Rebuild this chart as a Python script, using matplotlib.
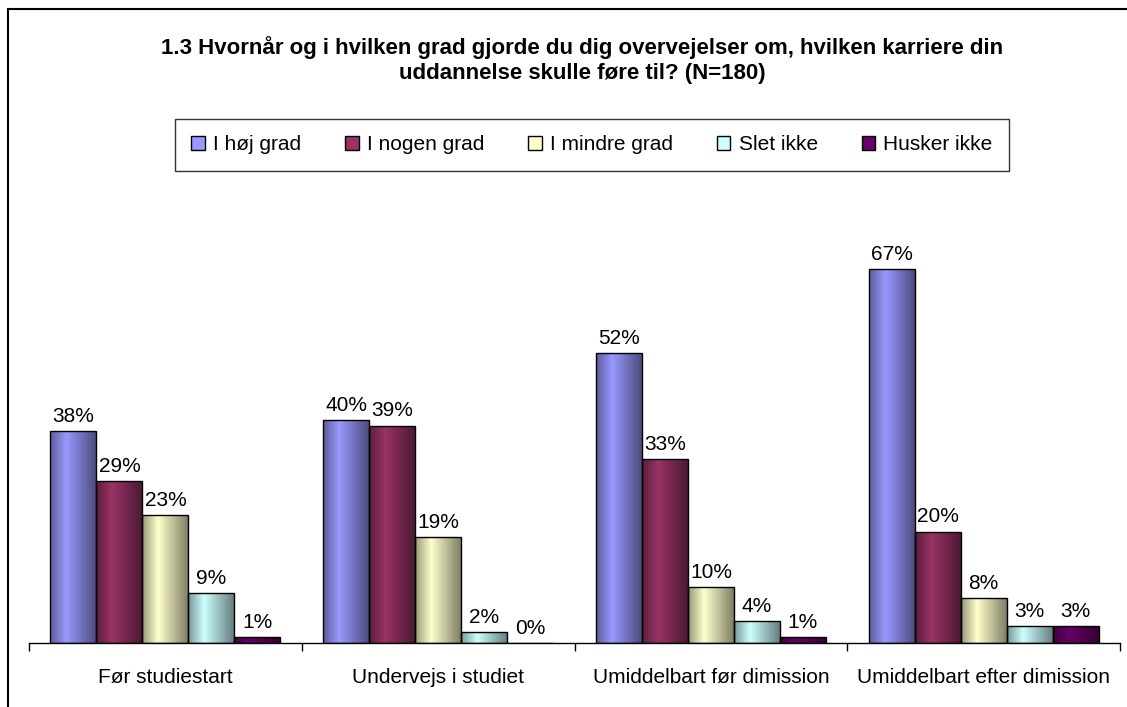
import numpy as np
import matplotlib
matplotlib.use("Agg")
import matplotlib.pyplot as plt
from matplotlib.patches import Rectangle, Patch
from matplotlib.colors import to_rgb

plt.rcParams['font.family'] = ['Liberation Sans', 'DejaVu Sans']

title = "1.3 Hvornår og i hvilken grad gjorde du dig overvejelser om, hvilken karriere din\nuddannelse skulle føre til? (N=180)"
categories = ["Før studiestart", "Undervejs i studiet", "Umiddelbart før dimission", "Umiddelbart efter dimission"]
series_names = ["I høj grad", "I nogen grad", "I mindre grad", "Slet ikke", "Husker ikke"]
hoej = [38, 40, 52, 67]
nogen = [29, 39, 33, 20]
mindre = [23, 19, 10, 8]
slet = [9, 2, 4, 3]
husker = [1, 0, 1, 3]
series_values = [hoej, nogen, mindre, slet, husker]
colors = ["#9999FF", "#993366", "#FFFFCC", "#CCFFFF", "#660066"]

W, H = 1127, 707
fig = plt.figure(figsize=(W / 100, H / 100), dpi=100)
ax = fig.add_axes([29 / W, 64 / H, (1120 - 29) / W, 446 / H])

n = len(series_names)
group_w = 0.843
bw = group_w / n
x = np.arange(len(categories)) + 0.5

# gradient profile
t = np.linspace(0, 1, 64)
prof = np.interp(t, [0, 0.35, 1], [0.6, 1.0, 0.5])

for i, (vals, c) in enumerate(zip(series_values, colors)):
    xs = x - group_w / 2 + bw * (i + 0.5)
    bars = ax.bar(xs, vals, width=bw, color=c, edgecolor='black', linewidth=1.0, zorder=3)
    base = np.array(to_rgb(c))
    grad = np.clip(prof[:, None] * base[None, :], 0, 1)[None, :, :]
    for b, v in zip(bars, vals):
        ax.annotate(f"{v}%", (b.get_x() + b.get_width() / 2, v), xytext=(0, 10.5),
                    textcoords='offset points', ha='center', va='center', fontsize=15)
        if v <= 0:
            continue
        b.set_facecolor('none')
        im = ax.imshow(grad, extent=[b.get_x(), b.get_x() + b.get_width(), 0, v],
                       aspect='auto', zorder=2, interpolation='bilinear')
        im.set_clip_path(b)

ax.set_xlim(0, len(categories))
ax.set_ylim(0, 80)
for s in ['left', 'right', 'top']:
    ax.spines[s].set_visible(False)
ax.spines['bottom'].set_linewidth(1.0)
ax.set_yticks([])
ax.set_xticks(np.arange(len(categories) + 1))
ax.set_xticklabels([])
ax.tick_params(axis='x', which='major', length=6, width=1.0, direction='out')
ax.set_xticks(x, minor=True)
ax.set_xticklabels(categories, minor=True, fontsize=15)
ax.tick_params(axis='x', which='minor', length=0, pad=18)

fig.text(582 / W, 1 - 60 / H, title, ha='center', va='center', fontsize=16,
         fontweight='bold', linespacing=1.3)

handles = [Patch(facecolor=c, edgecolor='black', linewidth=1.0) for c in colors]
leg = fig.legend(handles, series_names, loc='center', bbox_to_anchor=(592 / W, 1 - 145 / H),
                 ncol=5, frameon=True, fancybox=False, fontsize=15, handlelength=0.65,
                 handleheight=0.65, handletextpad=0.4, columnspacing=2.1,
                 borderpad=0.8)
leg.get_frame().set_edgecolor('black')
leg.get_frame().set_linewidth(1.0)

fig.patches.append(Rectangle((8 / W, -0.1), 1.2, 1 - 9 / H + 0.1, transform=fig.transFigure,
                             fill=False, edgecolor='black', linewidth=1.5))

fig.savefig("out.png", dpi=100)
